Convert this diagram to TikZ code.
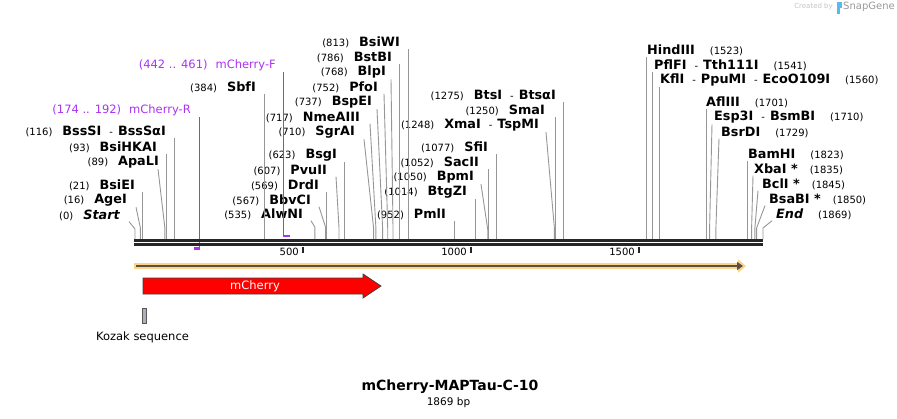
\documentclass[tikz,border=0pt]{standalone}
\usepackage{fontspec}
\setmainfont{DejaVu Sans}
\usepackage{tikz}
\usetikzlibrary{arrows.meta}
\definecolor{colprim}{RGB}{170,51,240}
\definecolor{colorf}{RGB}{251,211,138}
\definecolor{colorfl}{RGB}{90,80,68}
\definecolor{colcut}{RGB}{150,150,150}
\definecolor{colkoz}{RGB}{170,175,185}
\definecolor{collogo}{RGB}{195,195,195}
\definecolor{colsg}{RGB}{90,185,240}
\newcommand{\en}[1]{{\fontsize{12.8}{14}\selectfont\bfseries #1}}
\newcommand{\sep}{\hspace{8pt}-\hspace{5pt}}
\tikzset{
  lbl/.style ={inner sep=1pt,font=\fontsize{10}{12}\selectfont},
  lblL/.style={lbl,anchor=east},
  lblR/.style={lbl,anchor=west},
  plbl/.style={inner sep=1pt,anchor=east,text=colprim,font=\fontsize{11.5}{13}\selectfont},
  flbl/.style={inner sep=1pt,font=\fontsize{11.5}{13}\selectfont},
  cut/.style ={colcut,line width=0.9},
  prim/.style={colprim,line width=1.2},
  pbar/.style={colprim,line width=2.4},
  dna/.style ={black!85,line width=2.7},
  tick/.style={black!85,line width=1.4},
  tlbl/.style={inner sep=0pt,anchor=east,font=\fontsize{10}{12}\selectfont},
}

\begin{document}
\begin{tikzpicture}[x=1pt,y=-1pt]
  \useasboundingbox (0,0) rectangle (897,418);
  % cut sites on the top strand
  \coordinate (p0) at (135,239);     \coordinate (p16) at (140.4,239);
  \coordinate (p21) at (142.1,239);  \coordinate (p89) at (164.9,239);
  \coordinate (p93) at (166.2,239);  \coordinate (p116) at (174,239);
  \coordinate (p384) at (264,239);   \coordinate (p535) at (314.8,239);
  \coordinate (p567) at (325.5,239); \coordinate (p569) at (326.2,239);
  \coordinate (p607) at (339,239);   \coordinate (p623) at (344.3,239);
  \coordinate (p710) at (373.6,239); \coordinate (p717) at (375.9,239);
  \coordinate (p737) at (382.6,239); \coordinate (p752) at (387.7,239);
  \coordinate (p768) at (393,239);   \coordinate (p786) at (399.1,239);
  \coordinate (p813) at (408.2,239); \coordinate (p952) at (454.9,239);
  \coordinate (p1014) at (475.7,239);\coordinate (p1050) at (487.8,239);
  \coordinate (p1052) at (488.5,239);\coordinate (p1077) at (496.9,239);
  \coordinate (p1248) at (554.3,239);\coordinate (p1250) at (555,239);
  \coordinate (p1275) at (563.4,239);\coordinate (p1523) at (646.7,239);
  \coordinate (p1541) at (652.8,239);\coordinate (p1560) at (659.2,239);
  \coordinate (p1701) at (706.5,239);\coordinate (p1710) at (709.6,239);
  \coordinate (p1729) at (715.9,239);\coordinate (p1823) at (747.5,239);
  \coordinate (p1835) at (751.6,239);\coordinate (p1845) at (754.9,239);
  \coordinate (p1850) at (756.6,239);\coordinate (p1869) at (763,239);

  % labels, left group
  \node[lblL] (start) at (121,215) {(0)\hspace{10pt}\en{\itshape Start}};
  \node[lblL] (age)   at (128,200) {(16)\hspace{10pt}\en{AgeI}};
  \node[lblL] (bsie)  at (136,185) {(21)\hspace{10pt}\en{BsiEI}};
  \node[lblL] (apa)   at (160,162) {(89)\hspace{10pt}\en{ApaLI}};
  \node[lblL] (bsihk) at (158,147) {(93)\hspace{10pt}\en{BsiHKAI}};
  \node[lblL] (bsss)  at (167,131) {(116)\hspace{10pt}\en{BssSI}\sep\en{BssSαI}};
  \node[lblL] (sbf)   at (257,87)  {(384)\hspace{10pt}\en{SbfI}};
  \node[lblL] (alwn)  at (304,214) {(535)\hspace{10pt}\en{AlwNI}};
  \node[lblL] (bbvc)  at (312,200) {(567)\hspace{10pt}\en{BbvCI}};
  \node[lblL] (drd)   at (320,185) {(569)\hspace{10pt}\en{DrdI}};
  \node[lblL] (pvu)   at (328,170) {(607)\hspace{10pt}\en{PvuII}};
  \node[lblL] (bsg)   at (338,155) {(623)\hspace{10pt}\en{BsgI}};
  \node[lblL] (sgra)  at (356,132) {(710)\hspace{10pt}\en{SgrAI}};
  \node[lblL] (nme)   at (361,117) {(717)\hspace{10pt}\en{NmeAIII}};
  \node[lblL] (bspe)  at (373,102) {(737)\hspace{10pt}\en{BspEI}};
  \node[lblL] (pfo)   at (379,87)  {(752)\hspace{10pt}\en{PfoI}};
  \node[lblL] (blp)   at (387,72)  {(768)\hspace{10pt}\en{BlpI}};
  \node[lblL] (bstb)  at (393,57)  {(786)\hspace{10pt}\en{BstBI}};
  \node[lblL] (bsiw)  at (401,42)  {(813)\hspace{10pt}\en{BsiWI}};
  \node[lblL] (pml)   at (447,214) {(952)\hspace{10pt}\en{PmlI}};
  \node[lblL] (btgz)  at (468,192) {(1014)\hspace{10pt}\en{BtgZI}};
  \node[lblL] (bpm)   at (475,177) {(1050)\hspace{10pt}\en{BpmI}};
  \node[lblL] (sac)   at (480,162) {(1052)\hspace{10pt}\en{SacII}};
  \node[lblL] (sfi)   at (489,147) {(1077)\hspace{10pt}\en{SfiI}};
  \node[lblL] (xma)   at (540,125) {(1248)\hspace{10pt}\en{XmaI}\sep\en{TspMI}};
  \node[lblL] (sma)   at (546,110) {(1250)\hspace{10pt}\en{SmaI}};
  \node[lblL] (bts)   at (557,95)  {(1275)\hspace{10pt}\en{BtsI}\sep\en{BtsαI}};
  % labels, right group
  \node[lblR] (hind)  at (646,50)  {\en{HindIII}\hspace{15pt}(1523)};
  \node[lblR] (pflf)  at (653,65)  {\en{PflFI}\sep\en{Tth111I}\hspace{15pt}(1541)};
  \node[lblR] (kfl)   at (659,80)  {\en{KflI}\sep\en{PpuMI}\sep\en{EcoO109I}\hspace{15pt}(1560)};
  \node[lblR] (afl)   at (705,102) {\en{AflIII}\hspace{15pt}(1701)};
  \node[lblR] (esp)   at (713,117) {\en{Esp3I}\sep\en{BsmBI}\hspace{15pt}(1710)};
  \node[lblR] (bsrd)  at (720,132) {\en{BsrDI}\hspace{15pt}(1729)};
  \node[lblR] (bam)   at (747,154) {\en{BamHI}\hspace{15pt}(1823)};
  \node[lblR] (xba)   at (753,169) {\en{XbaI *}\hspace{12pt}(1835)};
  \node[lblR] (bcl)   at (761,184) {\en{BclI *}\hspace{12pt}(1845)};
  \node[lblR] (bsab)  at (768,199) {\en{BsaBI *}\hspace{12pt}(1850)};
  \node[lblR] (end)   at (775,214) {\en{\itshape End}\hspace{15pt}(1869)};

  % leaders
  \draw[cut] (p0) -- ++(0,-10) -- ([xshift=8]start.south east);
  \draw[cut] (p16) -- ++(0,-11) -- ([xshift=8]age.south east);
  \draw[cut] (p21) -- (p21 |- bsie.south);
  \draw[cut] (p89) -- ++(0,-11) -- ([xshift=-2]apa.south east);
  \draw[cut] (p93) -- (p93 |- bsihk.south);
  \draw[cut] (p116) -- (p116 |- bsss.south);
  \draw[cut] (p384) -- (p384 |- sbf.south);
  \draw[cut] (p535) -- ++(0,-12) -- ([xshift=7]alwn.south east);
  \draw[cut] (p567) -- ++(0,-12) -- ([xshift=7]bbvc.south east);
  \draw[cut] (p569) -- (p569 |- drd.south);
  \draw[cut] (p607) -- ++(0,-11) -- ([xshift=8]pvu.south east);
  \draw[cut] (p623) -- (p623 |- bsg.south);
  \draw[cut] (p710) -- ++(0,-11) -- ([xshift=8]sgra.south east);
  \draw[cut] (p717) -- ++(0,-11) -- ([xshift=9]nme.south east);
  \draw[cut] (p737) -- ++(0,-11) -- ([xshift=4]bspe.south east);
  \draw[cut] (p752) -- ++(0,-11) -- ([xshift=5]pfo.south east);
  \draw[cut] (p768) -- ++(0,-11) -- ([xshift=4]blp.south east);
  \draw[cut] (p786) -- (p786 |- bstb.south);
  \draw[cut] (p813) -- (p813 |- bsiw.south);
  \draw[cut] (p952) -- (p952 |- pml.south);
  \draw[cut] (p1014) -- (p1014 |- btgz.south);
  \draw[cut] (p1050) -- ++(0,-9) -- ([xshift=6]bpm.south east);
  \draw[cut] (p1052) -- (p1052 |- sac.south);
  \draw[cut] (p1077) -- (p1077 |- sfi.south);
  \draw[cut] (p1248) -- ++(0,-12) -- ([xshift=6]xma.south east);
  \draw[cut] (p1250) -- (p1250 |- sma.south);
  \draw[cut] (p1275) -- (p1275 |- bts.south);
  \draw[cut] (p1523) -- (p1523 |- hind.south);
  \draw[cut] (p1541) -- (p1541 |- pflf.south);
  \draw[cut] (p1560) -- (p1560 |- kfl.south);
  \draw[cut] (p1701) -- (p1701 |- afl.south);
  \draw[cut] (p1710) -- ++(0,-11) -- ([xshift=-1]esp.south west);
  \draw[cut] (p1729) -- ++(0,-11) -- ([xshift=-1]bsrd.south west);
  \draw[cut] (p1823) -- (p1823 |- bam.south);
  \draw[cut] (p1835) -- ++(0,-11) -- (xba.south west);
  \draw[cut] (p1845) -- ++(0,-11) -- ([xshift=-3]bcl.south west);
  \draw[cut] (p1850) -- ++(0,-11) -- ([xshift=-3]bsab.south west);
  \draw[cut] (p1869) -- ++(0,-11) -- ([xshift=-3]end.south west);

  % primers
  \node[plbl] (mchr) at (192,110) {(174 .. 192)\hspace{8pt}mCherry-R};
  \node[plbl] (mchf) at (277,65)  {(442 .. 461)\hspace{8pt}mCherry-F};
  \coordinate (r1) at (193.5,248.5); \coordinate (r2) at (199.5,248.5);
  \coordinate (f1) at (283.5,236);   \coordinate (f2) at (290,236);
  \draw[prim] (r2) -- (r2 |- mchr.south);
  \draw[pbar] (r1) -- ([xshift=0.6]r2);
  \draw[prim] (f1) -- (f1 |- mchf.south);
  \draw[pbar] ([xshift=-0.6]f1) -- (f2);

  % sequence
  \draw[dna] (134,240.5) -- (763,240.5);
  \draw[dna] (134,244.5) -- (763,244.5);
  \draw[tick] (303,247) -- (303,253);
  \draw[tick] (471,247) -- (471,253);
  \draw[tick] (639,247) -- (639,253);
  \node[tlbl] (t500)  at (299,252) {500};
  \node[tlbl] (t1000) at (467,252) {1000};
  \node[tlbl] (t1500) at (635,252) {1500};

  % ORF and features
  \draw[colorf,line width=6,-{Triangle[length=8pt,width=13pt]}] (134,266) -- (746,266);
  \draw[colorfl,line width=2.4,-{Triangle[length=6pt,width=8pt]}] (136,266) -- (743,266);
  \draw[fill=red,draw=black!75,line width=0.8] (143,278) -- (363,278) -- (363,274)
    -- (381,286) -- (363,298) -- (363,294) -- (143,294) -- cycle;
  \node[flbl,text=white] (mch) at (255,286) {mCherry};
  \draw[fill=colkoz,draw=black!65,line width=0.6] (142,308) rectangle (146,323);
  \node[flbl] (koz) at (142.5,337) {Kozak sequence};

  % title
  \node[font=\fontsize{14}{16}\selectfont\bfseries] (title) at (450,387) {mCherry-MAPTau-C-10};
  \node[font=\fontsize{10.5}{12}\selectfont] (len) at (448.5,403) {1869 bp};

  % logo
  \node[inner sep=0pt,anchor=east,text=collogo,font=\fontsize{7}{8}\selectfont] (made) at (833,7) {Created by};
  \fill[colsg] (837,2) rectangle (839.5,14);
  \fill[colsg] (839.5,2) rectangle (841.5,8);
  \node[inner sep=0pt,anchor=west,text=black!40,font=\fontsize{10}{12}\selectfont] (sg) at (843,7) {SnapGene};
\end{tikzpicture}
\end{document}
